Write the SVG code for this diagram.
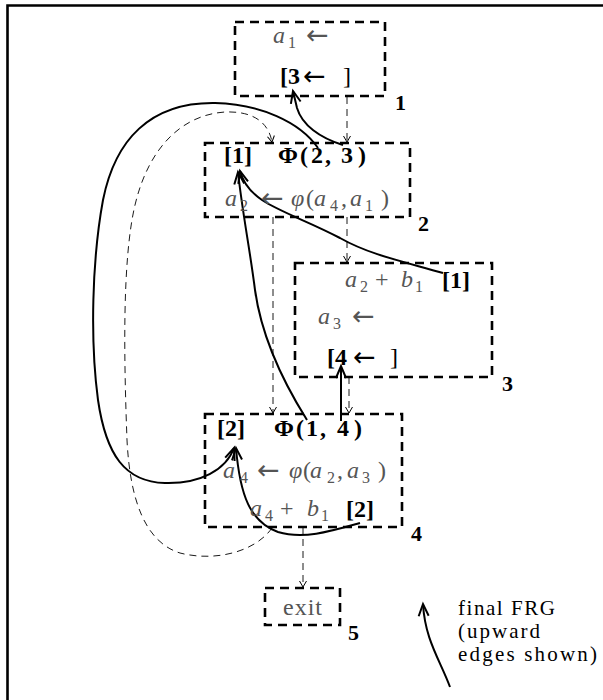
<svg xmlns="http://www.w3.org/2000/svg" width="603" height="700" viewBox="0 0 603 700">
<defs>
<style>
.box{fill:none;stroke:#000;stroke-width:2.6;stroke-dasharray:9,6}
.g{font-family:"Liberation Serif",serif;font-size:24px;fill:#555}
.k{font-family:"Liberation Serif",serif;font-size:24px;fill:#000}
.b{font-weight:bold;fill:#000}
.i{font-style:italic}
.s{font-size:16px}
.ar{font-family:"DejaVu Sans",sans-serif;font-size:27px;font-weight:normal}
.lbl{font-family:"Liberation Serif",serif;font-size:22px;font-weight:bold;fill:#000}
.cap{font-family:"Liberation Serif",serif;font-size:21px;fill:#000}
.cf{fill:none;stroke:#000;stroke-width:0.9;stroke-dasharray:7,5}
.fe{fill:none;stroke:#000;stroke-width:2}
</style>
<marker id="v" markerUnits="userSpaceOnUse" markerWidth="12" markerHeight="12" refX="0" refY="0" viewBox="-8 -6 10 12" orient="auto">
<path d="M-6,-3.5 L0,0 L-6,3.5" fill="none" stroke="#000" stroke-width="1"/>
</marker>
<marker id="a" markerUnits="userSpaceOnUse" markerWidth="18" markerHeight="18" refX="0" refY="0" viewBox="-14 -9 16 18" orient="auto">
<path d="M-12,-5 L0,0 L-12,5" fill="none" stroke="#000" stroke-width="2"/>
</marker>
</defs>
<rect width="603" height="700" fill="#fff"/>
<path d="M7.5,700 L7.5,5.5 L603,5.5" fill="none" stroke="#000" stroke-width="2.6"/>

<g id="connectors">
<path class="cf" d="M347,97 L347,142" marker-end="url(#v)"/>
<path class="cf" d="M347,217 L347,262" marker-end="url(#v)"/>
<path class="cf" d="M273,217 L273,413" marker-end="url(#v)"/>
<path class="cf" d="M349,377 L349,413" marker-end="url(#v)"/>
<path class="cf" d="M303,527 L303,587" marker-end="url(#v)"/>
<path class="cf" d="M272,528 C255,552 215,562 180,553 C145,542 130,500 127,440 C124,360 122,260 135,205 C148,150 180,115 225,112 C250,111 268,120 272,142" marker-end="url(#v)" stroke-dasharray="7,8"/>
<path class="fe" d="M343,145 C320,138 302,125 297,108 L293,91" marker-end="url(#a)"/>
<path class="fe" d="M318,148 C300,122 260,104 215,103 C150,102 115,140 103,200 C92,260 90,340 98,400 C106,455 125,482 165,483 C200,484 226,470 234,448" marker-end="url(#a)"/>
<path class="fe" d="M443,273 C405,262 370,255 340,238 C310,222 280,212 262,200 C250,192 243,182 240,171" marker-end="url(#a)"/>
<path class="fe" d="M307,420 C285,385 262,340 255,290 C250,250 242,210 238,172" marker-end="url(#a)"/>
<path class="fe" d="M360,523 C335,530 305,540 278,532 C250,522 240,495 236,448" marker-end="url(#a)"/>
<path class="fe" d="M341,421 L341,366" marker-end="url(#a)"/>
<path class="fe" d="M450,687 C440,660 425,640 423,604" marker-end="url(#a)"/>
</g>

<g id="node1">
<rect class="box" x="235" y="22" width="150" height="74"/>
<text class="g"><tspan class="i" x="273" y="43">a</tspan><tspan class="s" x="288" y="48">1</tspan><tspan class="ar" x="306" y="44">←</tspan></text>
<text class="k"><tspan class="b" x="280" y="84">[3</tspan><tspan class="ar" x="303" y="85">←</tspan><tspan x="343" y="84">]</tspan></text>
<text class="lbl" x="395" y="110">1</text>
</g>

<g id="node2">
<rect class="box" x="205" y="143" width="205" height="74"/>
<text class="k b" x="224" y="163">[1]</text>
<text class="k b"><tspan x="278" y="163">Φ</tspan><tspan x="300" y="163">(</tspan><tspan x="311" y="163">2</tspan><tspan x="325" y="163">,</tspan><tspan x="341" y="163">3</tspan><tspan x="358" y="163">)</tspan></text>
<text class="g"><tspan class="i" x="225" y="206">a</tspan><tspan class="s" x="240" y="211">2</tspan><tspan class="ar" x="261" y="207">←</tspan><tspan class="i" x="291" y="206">φ</tspan><tspan x="306" y="206">(</tspan><tspan class="i" x="314" y="206">a</tspan><tspan class="s" x="330" y="211">4</tspan><tspan x="341" y="206">,</tspan><tspan class="i" x="350" y="206">a</tspan><tspan class="s" x="365" y="211">1</tspan><tspan x="381" y="206">)</tspan></text>
<text class="lbl" x="418" y="231">2</text>
</g>

<g id="node3">
<rect class="box" x="295" y="263" width="197" height="114"/>
<text class="g"><tspan class="i" x="345" y="287">a</tspan><tspan class="s" x="360" y="292">2</tspan><tspan x="375" y="287">+</tspan><tspan class="i" x="401" y="287">b</tspan><tspan class="s" x="415" y="292">1</tspan></text>
<text class="k b" x="442" y="288">[1]</text>
<text class="g"><tspan class="i" x="318" y="324">a</tspan><tspan class="s" x="333" y="329">3</tspan><tspan class="ar" x="352" y="325">←</tspan></text>
<text class="k"><tspan class="b" x="327" y="365">[4</tspan><tspan class="ar" x="353" y="366">←</tspan><tspan x="390" y="365">]</tspan></text>
<text class="lbl" x="502" y="391">3</text>
</g>

<g id="node4">
<rect class="box" x="205" y="414" width="197" height="113"/>
<text class="k b" x="217" y="436">[2]</text>
<text class="k b"><tspan x="274" y="436">Φ</tspan><tspan x="296" y="436">(</tspan><tspan x="306" y="436">1</tspan><tspan x="320" y="436">,</tspan><tspan x="337" y="436">4</tspan><tspan x="354" y="436">)</tspan></text>
<text class="g"><tspan class="i" x="223" y="478">a</tspan><tspan class="s" x="240" y="483">4</tspan><tspan class="ar" x="257" y="479">←</tspan><tspan class="i" x="289" y="478">φ</tspan><tspan x="303" y="478">(</tspan><tspan class="i" x="310" y="478">a</tspan><tspan class="s" x="327" y="483">2</tspan><tspan x="337" y="478">,</tspan><tspan class="i" x="347" y="478">a</tspan><tspan class="s" x="362" y="483">3</tspan><tspan x="378" y="478">)</tspan></text>
<text class="g"><tspan class="i" x="250" y="516">a</tspan><tspan class="s" x="265" y="521">4</tspan><tspan x="280" y="516">+</tspan><tspan class="i" x="307" y="516">b</tspan><tspan class="s" x="321" y="521">1</tspan></text>
<text class="k b" x="346" y="517">[2]</text>
<text class="lbl" x="411" y="541">4</text>
</g>

<g id="exit">
<rect class="box" x="265" y="588" width="75" height="37"/>
<text class="g" x="283" y="615" textLength="39">exit</text>
<text class="lbl" x="348" y="640">5</text>
</g>

<g id="caption">
<text class="cap" x="458" y="615" textLength="97">final FRG</text>
<text class="cap" x="458" y="638" textLength="82">(upward</text>
<text class="cap" x="458" y="661" textLength="139">edges shown)</text>
</g>
</svg>
